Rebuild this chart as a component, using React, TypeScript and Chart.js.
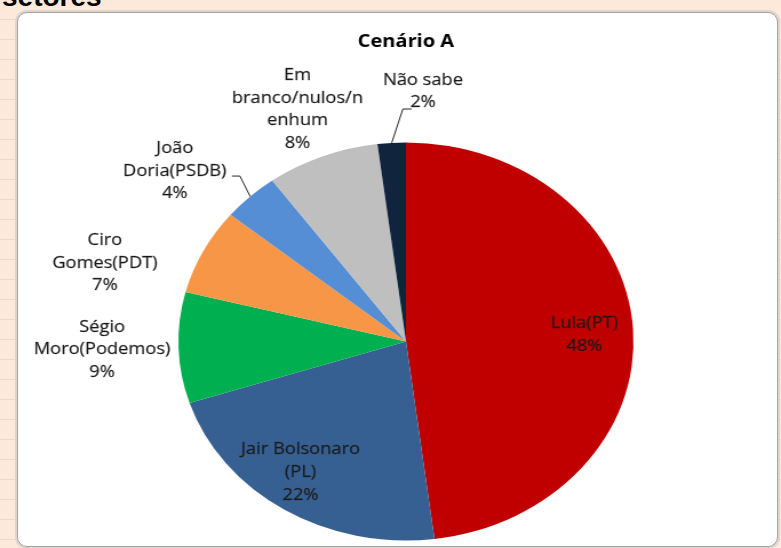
import React, { useEffect, useRef } from "react";
import { Chart, registerables } from "chart.js";

Chart.register(...registerables);

const chartTitle = "Cenário A";
const categories = [
  "Lula(PT)",
  "Jair Bolsonaro (PL)",
  "Ségio Moro(Podemos)",
  "Ciro Gomes(PDT)",
  "João Doria(PSDB)",
  "Em branco/nulos/nenhum",
  "Não sabe",
];
const labelLines = [
  ["Lula(PT)"],
  ["Jair Bolsonaro", "(PL)"],
  ["Ségio", "Moro(Podemos)"],
  ["Ciro", "Gomes(PDT)"],
  ["João", "Doria(PSDB)"],
  ["Em", "branco/nulos/n", "enhum"],
  ["Não sabe"],
];
const values = [48, 22, 9, 7, 4, 8, 2];
const colors = ["#C00000", "#376092", "#00B050", "#F79646", "#558ED5", "#BFBFBF", "#10243E"];

// label placement: radial factor, angle tweak (deg), vertical nudge, optional leader
const labelLayout = [
  { f: 0.785, dA: 1.2, dy: 0 },
  { f: 0.8, dA: 3, dy: 1 },
  { f: 1.336, dA: 0.2, dy: 1 },
  { f: 1.382, dA: -10.2, dy: 1 },
  { f: 1.332, dA: -6.5, dy: 1, leader: { lx: 50, ly: 5, ex: 7 } },
  { f: 1.267, dA: -0.5, dy: 1.5 },
  { f: 1.261, dA: 7, dy: 0.5, leader: { lx: -10, ly: 17.5, ex: -7.6 } },
];

const STRETCH = 781 / 683;
const FONT = "'Open Sans', 'Noto Sans', sans-serif";

const labelPlugin = {
  id: "pieLabels",
  afterDatasetsDraw(chart: any) {
    const ctx = chart.ctx;
    const meta = chart.getDatasetMeta(0);
    const total = values.reduce((a, b) => a + b, 0);
    ctx.save();
    const ca = chart.chartArea;
    const cx0 = (ca.left + ca.right) / 2;
    ctx.fillStyle = "#000";
    ctx.font = `bold 17.5px ${FONT}`;
    ctx.textAlign = "center";
    ctx.textBaseline = "middle";
    ctx.fillText(chartTitle, cx0, 42);

    ctx.font = `16px ${FONT}`;
    const lh = 22.7;
    meta.data.forEach((arc: any, i: number) => {
      const p = arc.getProps(["x", "y", "startAngle", "endAngle", "outerRadius"], true);
      const mid = (p.startAngle + p.endAngle) / 2;
      const L = labelLayout[i];
      const a = mid + (L.dA * Math.PI) / 180;
      const px = p.x + Math.cos(a) * p.outerRadius * L.f;
      const py = p.y + Math.sin(a) * p.outerRadius * L.f + L.dy;
      const lines = [...labelLines[i], Math.round((values[i] / total) * 100) + "%"];
      ctx.fillStyle = "#1a1a1a";
      ctx.strokeStyle = "rgba(26,26,26,0.55)";
      ctx.lineWidth = 0.35;
      lines.forEach((t, k) => {
        const ty = py + (k - (lines.length - 1) / 2) * lh;
        ctx.fillText(t, px, ty);
        ctx.strokeText(t, px, ty);
      });
      if (L.leader) {
        const ex = p.x + Math.cos(mid) * p.outerRadius;
        const ey = p.y + Math.sin(mid) * p.outerRadius;
        const lx = px + L.leader.lx;
        const ly = py + L.leader.ly;
        ctx.strokeStyle = "#262626";
        ctx.lineWidth = 1;
        ctx.beginPath();
        ctx.moveTo(lx, ly);
        ctx.lineTo(lx + L.leader.ex, ly);
        ctx.lineTo(ex, ey);
        ctx.stroke();
      }
    });
    ctx.restore();
  },
};

export default function App() {
  const ref = useRef<HTMLCanvasElement | null>(null);
  useEffect(() => {
    if (!ref.current) return;
    const chart = new Chart(ref.current, {
      type: "pie",
      data: {
        labels: categories,
        datasets: [
          {
            data: values,
            backgroundColor: colors,
            borderWidth: 0,
          },
        ],
      },
      options: {
        responsive: false,
        animation: false,
        layout: { padding: { left: 156, right: 129, top: 142.5, bottom: 7.5 } },
        plugins: {
          legend: { display: false },
          title: { display: false },
          tooltip: { enabled: false },
        },
      },
      plugins: [labelPlugin],
    });
    return () => chart.destroy();
  }, []);

  return (
    <div
      style={{
        position: "fixed",
        left: 0,
        top: 0,
        width: 781,
        height: 548,
        overflow: "hidden",
        background: "#FDE9D9",
        backgroundImage:
          "repeating-linear-gradient(to bottom, transparent 0px, transparent 19px, rgba(160,140,120,0.18) 19px, rgba(160,140,120,0.18) 20px)",
      }}
    >
      <div
        style={{
          position: "absolute",
          left: 2,
          top: -17,
          fontFamily: "'Liberation Sans', Arial, sans-serif",
          fontWeight: "bold",
          fontSize: 28,
          lineHeight: "28px",
          color: "#000",
        }}
      >
        setores
      </div>
      <div
        style={{
          position: "absolute",
          left: 17,
          top: 12,
          width: 759,
          height: 533,
          background: "#fff",
          border: "1px solid #A8A29C",
          borderRadius: 10,
          boxShadow: "0 0 0 2px #DDD6CF",
        }}
      />
      <canvas
        ref={ref}
        width={683}
        height={548}
        style={{
          position: "absolute",
          left: 0,
          top: 0,
          width: 683,
          height: 548,
          transform: `scaleX(${STRETCH})`,
          transformOrigin: "0 0",
        }}
      />
    </div>
  );
}
